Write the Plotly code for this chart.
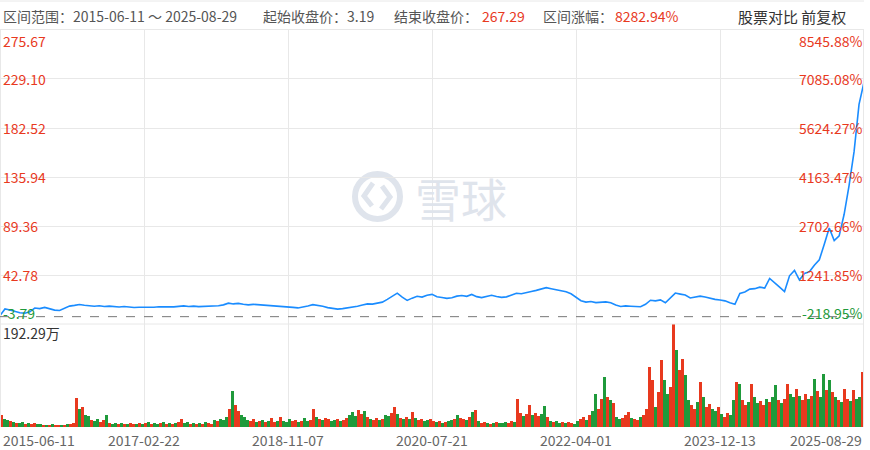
import plotly.graph_objects as go

# ---------------- data ----------------
date_ticks = ["2015-06-11", "2017-02-22", "2018-11-07", "2020-07-21",
              "2022-04-01", "2023-12-13", "2025-08-29"]

# sampled close price (前复权), evenly spaced through the period
price = [
    4.2, 10.5, 9.6, 8.4, 6.9, 6.5, 7.8, 11.4, 10.8, 12.0,
    10.4, 9.4, 9.1, 11.2, 13.2, 13.9, 14.8, 14.1, 13.7, 13.1,
    13.5, 12.9, 13.2, 12.6, 12.4, 12.9, 12.3, 11.9, 12.2, 12.0,
    12.3, 12.1, 12.6, 12.4, 12.8, 12.5, 13.0, 13.4, 12.9, 13.2,
    12.7, 13.0, 12.6, 13.3, 13.6, 14.4, 16.0, 15.3, 15.8, 15.0,
    14.4, 14.9, 14.6, 14.2, 13.9, 13.4, 13.2, 12.9, 12.5, 12.0,
    11.5, 12.2, 13.4, 14.6, 14.2, 13.1, 11.8, 10.9, 10.4, 10.8,
    11.3, 12.2, 13.0, 14.2, 15.3, 15.1, 15.8, 17.0, 19.6, 22.4,
    25.5, 21.7, 18.6, 20.8, 22.6, 21.8, 23.6, 24.4, 22.1, 21.4,
    20.6, 21.2, 22.7, 23.3, 22.5, 24.3, 22.2, 21.3, 22.6, 23.5,
    22.3, 21.5, 22.0, 23.6, 25.4, 25.0, 26.4, 27.1, 28.2, 29.4,
    30.8, 29.8, 28.7, 27.6, 26.8, 24.9, 22.0, 18.4, 17.0, 17.6,
    16.5, 16.8, 17.2, 16.4, 14.2, 12.9, 13.4, 13.1, 12.9, 12.6,
    14.9, 18.8, 18.2, 19.1, 16.4, 21.0, 25.6, 24.6, 23.7, 20.9,
    22.0, 22.7, 21.8, 20.5, 19.6, 19.0, 18.2, 16.3, 15.0, 25.2,
    26.7, 29.4, 29.8, 31.2, 30.4, 39.5, 35.0, 31.3, 27.0, 42.0,
    47.2, 38.0, 44.2, 45.8, 52.0, 57.2, 72.0, 87.5, 75.5, 80.0,
    100.5, 128.0, 160.0, 205.0, 226.0,
]

# sampled volume (万股)
volume = [
    22.4, 15.0, 13.1, 11.2, 9.3, 7.5, 7.5, 9.3, 5.6, 7.5,
    5.6, 7.5, 5.6, 5.6, 3.7, 3.7, 3.7, 5.6, 3.7, 3.7,
    3.7, 3.7, 5.6, 5.6, 7.5, 54.1, 33.6, 37.3, 22.4, 20.5,
    13.1, 11.2, 14.9, 9.3, 13.1, 22.4, 7.5, 5.6, 7.5, 5.6,
    7.5, 5.6, 5.6, 7.5, 5.6, 5.6, 7.5, 5.6, 7.5, 9.3,
    5.6, 7.5, 5.6, 7.5, 9.3, 5.6, 7.5, 5.6, 7.5, 9.3,
    14.9, 7.5, 9.3, 5.6, 7.5, 5.6, 7.5, 5.6, 9.3, 7.5,
    5.6, 13.1, 11.2, 14.9, 13.1, 18.7, 33.6, 67.2, 41.1, 29.9,
    22.4, 18.7, 13.1, 11.2, 14.9, 9.3, 11.2, 13.1, 9.3, 11.2,
    16.8, 9.3, 11.2, 18.7, 11.2, 9.3, 14.9, 11.2, 13.1, 9.3,
    11.2, 16.8, 11.2, 13.1, 33.6, 18.7, 14.9, 13.1, 16.8, 14.9,
    11.2, 13.1, 14.9, 11.2, 13.1, 16.8, 22.4, 28.0, 20.5, 31.7,
    24.3, 29.9, 18.7, 14.9, 13.1, 16.8, 13.1, 14.9, 22.4, 20.5,
    26.1, 37.3, 24.3, 16.8, 14.9, 18.7, 14.9, 28.0, 16.8, 13.1,
    14.9, 11.2, 13.1, 14.9, 11.2, 9.3, 11.2, 7.5, 9.3, 11.2,
    13.1, 14.9, 22.4, 16.8, 14.9, 13.1, 18.7, 28.0, 31.7, 11.2,
    7.5, 9.3, 7.5, 5.6, 7.5, 9.3, 7.5, 7.5, 9.3, 7.5,
    11.2, 9.3, 52.3, 26.1, 20.5, 24.3, 41.1, 22.4, 26.1, 20.5,
    24.3, 39.2, 18.7, 11.2, 9.3, 11.2, 7.5, 9.3, 7.5, 9.3,
    7.5, 5.6, 11.2, 14.9, 18.7, 13.1, 22.4, 29.9, 61.6, 33.6,
    52.3, 93.3, 56.0, 50.4, 44.8, 18.7, 14.9, 16.8, 22.4, 28.0,
    16.8, 14.9, 13.1, 18.7, 22.4, 33.6, 112.0, 87.7, 37.3, 65.3,
    125.1, 87.7, 61.6, 74.7, 192.29, 143.7, 106.4, 126.9, 97.1, 50.4,
    41.1, 33.6, 46.7, 84.0, 56.0, 37.3, 42.9, 33.6, 29.9, 37.3,
    24.3, 18.7, 26.1, 22.4, 50.4, 84.0, 80.3, 50.4, 41.1, 46.7,
    80.3, 56.0, 44.8, 48.5, 41.1, 52.3, 46.7, 56.0, 78.4, 50.4,
    44.8, 52.3, 80.3, 61.6, 56.0, 70.9, 57.9, 50.4, 61.6, 52.3,
    57.9, 89.6, 67.2, 56.0, 98.9, 69.1, 87.7, 65.3, 56.0, 50.4,
    46.7, 70.9, 52.3, 48.5, 69.1, 52.3, 56.0, 102.7,
]

# r = up day (red), g = down day (green)
vol_dir = (
    "rggrgrgg" "rgrrggrg" "rgrrgrgr" "rrgrggrg" "grrgrggr" "grgrrgrg"
    "rgrggrgr" "grgrrggr" "grgrgrrg" "rgggrgrr" "gggrrgrg" "rgrrgrgg"
    "grrgrggr" "rgrgrrgg" "rgrrgggr" "rgrgrrgr" "ggrrgrgr" "grgrrggr"
    "rgrgrggr" "grrgrgrg" "rrgrgrgg" "grrgrrgr" "rgrrggrg" "rggrgrrg"
    "grrgrggr" "rgrgrggr" "rrgrrgrr" "rrgrrggr" "rgrrggrr" "grgrrggr"
    "grrggrgr" "rgrggrrg" "rggrgrrg" "grgrrgrg" "rggrgrgr" "grrgrggr"
)

left_ticks = [275.67, 229.10, 182.52, 135.94, 89.36, 42.78, -3.79]
right_ticks = ["8545.88%", "7085.08%", "5624.27%", "4163.47%",
               "2702.66%", "1241.85%", "-218.95%"]
start_close = 3.19
end_close = 267.29
gain_text = "8282.94%"
vol_max_label = "192.29万"

# ---------------- style ----------------
RED = "#e8391e"
GREEN = "#1f9a3b"
BLUE = "#1a8cff"
GRID = "#e8e8e8"
FONT = "Noto Sans CJK SC"
W, H = 870, 450
PW = 864  # plot width in px (margin r = 6)

def px(xp):
    return xp / PW

def py(yp):
    return 1 - yp / H

n = len(price)
nv = len(volume)

fig = go.Figure()
fig.add_trace(go.Scatter(
    x=list(range(n)), y=price, mode="lines",
    line=dict(color=BLUE, width=1.6), hoverinfo="skip",
    xaxis="x", yaxis="y"))

vol_colors = [RED if c == "r" else GREEN for c in vol_dir[:nv]]
fig.add_trace(go.Bar(
    x=list(range(nv)), y=volume, marker=dict(color=vol_colors, line=dict(width=0)),
    hoverinfo="skip", xaxis="x2", yaxis="y2"))

price_tickvals = [i * (n - 1) / 6 for i in range(7)]
vol_tickvals = [-0.5 + i * nv / 6 for i in range(7)]

fig.update_layout(
    width=W, height=H,
    margin=dict(l=0, r=W - PW, t=0, b=0),
    paper_bgcolor="white", plot_bgcolor="white",
    showlegend=False, bargap=0, hovermode=False,
    font=dict(family=FONT, size=14, color="#555"),
    xaxis=dict(domain=[0, 1], range=[0, n - 1], tickvals=price_tickvals,
               showticklabels=False, showgrid=True, gridcolor=GRID,
               zeroline=False, ticks="", anchor="y"),
    yaxis=dict(domain=[py(324), py(30)], range=[left_ticks[-1], left_ticks[0]],
               tickvals=left_ticks, showticklabels=False, showgrid=True,
               gridcolor=GRID, zeroline=False, ticks=""),
    xaxis2=dict(domain=[0, 1], range=[-0.5, nv - 0.5], tickvals=vol_tickvals,
                showticklabels=False, showgrid=True, gridcolor=GRID,
                zeroline=False, ticks="", anchor="y2"),
    yaxis2=dict(domain=[py(427), py(324)], range=[0, max(volume)],
                showticklabels=False, showgrid=False, zeroline=False, ticks=""),
)

shapes = []
# borders
shapes.append(dict(type="line", xref="paper", yref="paper", x0=0, x1=1,
                   y0=py(1), y1=py(1), line=dict(color=GRID, width=1)))
shapes.append(dict(type="line", xref="paper", yref="paper", x0=0, x1=1,
                   y0=py(29.5), y1=py(29.5), line=dict(color=GRID, width=1)))
shapes.append(dict(type="line", xref="paper", yref="paper", x0=0, x1=1,
                   y0=py(324), y1=py(324), line=dict(color=GRID, width=1)))
shapes.append(dict(type="line", xref="paper", yref="paper", x0=px(0.5), x1=px(0.5),
                   y0=py(29.5), y1=py(427), line=dict(color=GRID, width=1)))
shapes.append(dict(type="line", xref="paper", yref="paper", x0=px(863.5), x1=px(863.5),
                   y0=py(29.5), y1=py(427), line=dict(color=GRID, width=1)))
# start close dashed line
shapes.append(dict(type="line", xref="paper", yref="y", x0=0, x1=1,
                   y0=start_close, y1=start_close,
                   line=dict(color="#777", width=1, dash="dash")))
# watermark logo
WM = "#dfe4ec"
shapes.append(dict(type="circle", xref="paper", yref="paper", layer="below",
                   x0=px(355), x1=px(400), y0=py(219), y1=py(174),
                   line=dict(color=WM, width=6)))
shapes.append(dict(type="path", xref="paper", yref="paper", layer="below",
                   path=f"M {px(373)} {py(183)} L {px(364)} {py(196)} L {px(372)} {py(206)}",
                   line=dict(color=WM, width=5)))
shapes.append(dict(type="path", xref="paper", yref="paper", layer="below",
                   path=f"M {px(382)} {py(186)} L {px(390)} {py(197)} L {px(381)} {py(209)}",
                   line=dict(color=WM, width=5)))
fig.update_layout(shapes=shapes)

ann = []
def add(text, x, y, xanchor="left", yanchor="middle", color="#555", size=14, yref="paper", xref="paper"):
    ann.append(dict(text=text, x=x, y=y, xref=xref, yref=yref, xanchor=xanchor,
                    yanchor=yanchor, showarrow=False,
                    font=dict(family=FONT, size=size, color=color), borderpad=0))

# header
add(f"区间范围：{date_ticks[0]} ～ {date_ticks[-1]}", px(2), py(16))
add(f"起始收盘价：{start_close:.2f}", px(262), py(16))
add("结束收盘价：", px(393), py(16))
add(f"{end_close:.2f}", px(481), py(16), color=RED)
add("区间涨幅：", px(542), py(16))
add(gain_text, px(614), py(16), color=RED)
add("股票对比 前复权", px(737), py(16), color="#333", size=15)

# price axis labels
for i, v in enumerate(left_ticks):
    if i == 0:
        ya = "top"
    elif i == len(left_ticks) - 1:
        ya = "bottom"
    else:
        ya = "middle"
    col = GREEN if v < start_close else RED
    add(f"{v:.2f}", px(2), v, yanchor=ya, color=col, yref="y")
    add(right_ticks[i], 1, v, xanchor="right", yanchor=ya, color=col, yref="y")

# volume label
add(vol_max_label, px(2), py(333), color="#333")

# date labels
for i, d in enumerate(date_ticks):
    xa = "left" if i == 0 else ("right" if i == len(date_ticks) - 1 else "center")
    xp = 2 if i == 0 else (863 if i == len(date_ticks) - 1 else i * 144)
    add(d, px(xp), py(440), xanchor=xa, color="#666")

# watermark text
add("雪球", px(414), py(197), color=WM, size=46)

fig.update_layout(annotations=ann)
fig.write_html("out.html", config={"displayModeBar": False, "staticPlot": True})

# remove the browser's default page margin so the figure sits at (0, 0)
with open("out.html", "r", encoding="utf-8") as f:
    html = f.read()
html = html.replace("<body>", '<body style="margin:0;padding:0;overflow:hidden">', 1)
with open("out.html", "w", encoding="utf-8") as f:
    f.write(html)
